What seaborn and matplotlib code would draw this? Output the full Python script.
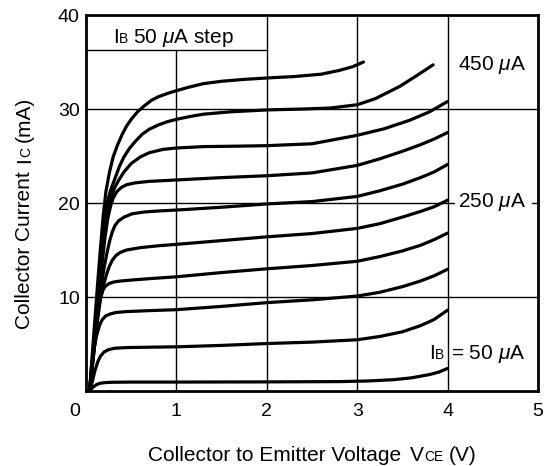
import numpy as np
import pandas as pd
import seaborn as sns
import matplotlib
matplotlib.use("Agg")
import matplotlib.pyplot as plt
import matplotlib.transforms as mtransforms

# ---------------- data ----------------
ib_ua = [50, 100, 150, 200, 250, 300, 350, 400, 450, 500]

vce_050 = [0.04, 0.06, 0.09, 0.12, 0.16, 0.22, 0.3, 0.5, 1.0, 2.0, 2.8, 3.1, 3.4, 3.6, 3.8, 3.9, 4.0]
ic_050 = [0.0, 0.25, 0.5, 0.7, 0.83, 0.9, 0.93, 0.95, 0.95, 0.97, 1.0, 1.06, 1.2, 1.4, 1.75, 2.0, 2.4]

vce_100 = [0.04, 0.07, 0.10, 0.13, 0.16, 0.20, 0.25, 0.32, 0.45, 0.7, 1.0, 1.5, 2.0, 2.5, 3.0, 3.25, 3.5, 3.7, 3.85, 4.0]
ic_100 = [0.0, 1.0, 2.2, 3.1, 3.7, 4.15, 4.4, 4.55, 4.62, 4.66, 4.7, 4.85, 5.05, 5.2, 5.45, 5.8, 6.3, 6.95, 7.6, 8.6]

vce_150 = [0.04, 0.06, 0.09, 0.12, 0.15, 0.18, 0.22, 0.27, 0.33, 0.45, 0.7, 1.0, 1.5, 2.0, 2.5, 3.0, 3.25, 3.5, 3.7, 3.85, 4.0]
ic_150 = [0.0, 2.5, 4.6, 6.0, 7.0, 7.6, 8.0, 8.2, 8.35, 8.45, 8.55, 8.65, 9.0, 9.4, 9.7, 10.1, 10.5, 11.1, 11.7, 12.25, 12.95]

vce_200 = [0.04, 0.07, 0.10, 0.13, 0.16, 0.19, 0.22, 0.26, 0.31, 0.38, 0.5, 0.7, 1.0, 1.5, 2.0, 2.5, 3.0, 3.25, 3.5, 3.7, 3.85, 4.0]
ic_200 = [0.0, 3.0, 6.0, 8.3, 9.9, 10.8, 11.2, 11.45, 11.6, 11.7, 11.8, 11.95, 12.15, 12.6, 13.0, 13.35, 13.8, 14.3, 14.9, 15.5, 16.1, 16.8]

vce_250 = [0.04, 0.08, 0.12, 0.16, 0.20, 0.23, 0.26, 0.29, 0.33, 0.38, 0.45, 0.6, 0.8, 1.0, 1.5, 2.0, 2.5, 3.0, 3.25, 3.5, 3.7, 3.85, 4.0]
ic_250 = [0.0, 3.5, 7.0, 9.8, 11.5, 12.5, 13.3, 13.9, 14.4, 14.75, 15.0, 15.25, 15.45, 15.6, 16.0, 16.4, 16.75, 17.3, 17.8, 18.5, 19.1, 19.6, 20.3]

vce_300 = [0.04, 0.08, 0.12, 0.16, 0.20, 0.23, 0.26, 0.29, 0.32, 0.36, 0.42, 0.51, 0.65, 0.8, 1.0, 1.5, 2.0, 2.5, 3.0, 3.25, 3.5, 3.7, 3.85, 4.0]
ic_300 = [0.0, 3.5, 7.2, 10.7, 13.1, 14.6, 15.9, 16.9, 17.6, 18.1, 18.5, 18.85, 19.05, 19.15, 19.25, 19.55, 19.9, 20.15, 20.7, 21.3, 22.0, 22.7, 23.3, 24.1]

vce_350 = [0.04, 0.08, 0.12, 0.15, 0.18, 0.21, 0.24, 0.27, 0.30, 0.34, 0.39, 0.45, 0.55, 0.7, 1.0, 1.5, 2.0, 2.5, 3.0, 3.25, 3.5, 3.7, 3.85, 4.0]
ic_350 = [0.0, 3.9, 8.2, 11.0, 13.8, 16.3, 18.3, 19.6, 20.5, 21.2, 21.65, 21.95, 22.15, 22.3, 22.45, 22.7, 22.9, 23.2, 24.0, 24.7, 25.5, 26.2, 26.8, 27.5]

vce_400 = [0.04, 0.08, 0.11, 0.14, 0.17, 0.20, 0.23, 0.27, 0.31, 0.36, 0.42, 0.5, 0.6, 0.7, 0.85, 1.0, 1.3, 1.7, 2.0, 2.5, 3.0, 3.3, 3.58, 3.8, 4.0]
ic_400 = [0.0, 4.0, 7.5, 10.7, 13.8, 16.4, 18.5, 20.3, 21.5, 22.4, 23.3, 24.2, 24.9, 25.35, 25.7, 25.85, 26.0, 26.05, 26.1, 26.3, 27.2, 27.9, 28.8, 29.7, 30.8]

vce_450 = [0.04, 0.08, 0.11, 0.14, 0.17, 0.20, 0.23, 0.27, 0.32, 0.37, 0.42, 0.48, 0.55, 0.62, 0.7, 0.8, 0.9, 1.0, 1.15, 1.3, 1.6, 2.0, 2.4, 2.7, 3.0, 3.2, 3.47, 3.65, 3.84]
ic_450 = [0.0, 4.2, 7.8, 11.2, 14.4, 17.4, 19.8, 21.3, 22.6, 23.9, 24.9, 25.8, 26.6, 27.3, 27.85, 28.3, 28.65, 28.9, 29.2, 29.45, 29.7, 29.9, 30.0, 30.1, 30.45, 31.1, 32.4, 33.5, 34.7]

vce_500 = [0.04, 0.07, 0.10, 0.13, 0.16, 0.19, 0.22, 0.26, 0.30, 0.35, 0.40, 0.45, 0.5, 0.57, 0.64, 0.72, 0.8, 0.9, 1.0, 1.15, 1.3, 1.5, 1.75, 2.0, 2.3, 2.6, 2.8, 2.95, 3.07]
ic_500 = [0.0, 4.0, 7.8, 11.6, 15.2, 18.6, 21.2, 23.3, 24.9, 26.2, 27.3, 28.2, 28.9, 29.7, 30.3, 30.9, 31.3, 31.65, 31.95, 32.35, 32.7, 32.95, 33.15, 33.3, 33.45, 33.7, 34.1, 34.5, 35.0]

x_ticks = [0, 1, 2, 3, 4, 5]
y_ticks = [10, 20, 30, 40]

curves_v = [vce_050, vce_100, vce_150, vce_200, vce_250, vce_300, vce_350, vce_400, vce_450, vce_500]
curves_i = [ic_050, ic_100, ic_150, ic_200, ic_250, ic_300, ic_350, ic_400, ic_450, ic_500]

rows = []
for ib, vs, cs in zip(ib_ua, curves_v, curves_i):
    for k, (v, c) in enumerate(zip(vs, cs)):
        rows.append({"ib": ib, "k": k, "vce": v, "ic": c})
df = pd.DataFrame(rows)

# ---------------- style ----------------
sns.set_theme(style="white")
plt.rcParams["font.family"] = ["Liberation Sans", "DejaVu Sans"]
plt.rcParams["mathtext.fontset"] = "custom"
plt.rcParams["mathtext.rm"] = "Liberation Sans"
plt.rcParams["mathtext.it"] = "Liberation Sans:italic"

W, H, DPI = 553, 466, 100
fig = plt.figure(figsize=(W / DPI, H / DPI), dpi=DPI)
ax_l, ax_r, ax_t, ax_b = 86, 538, 15, 391
ax = fig.add_axes([ax_l / W, 1 - ax_b / H, (ax_r - ax_l) / W, (ax_b - ax_t) / H])

# grid (drawn manually to reproduce the broken lines)
glw = 1.0
ax.axvline(1, ymin=0, ymax=36.3 / 40, color="black", lw=glw, zorder=1)
for xv in (2, 3, 4):
    ax.axvline(xv, color="black", lw=glw, zorder=1)
ax.axhline(10, color="black", lw=glw, zorder=1)
ax.axhline(30, color="black", lw=glw, zorder=1)
ax.axhline(20, xmin=0, xmax=4.07 / 5, color="black", lw=glw, zorder=1)
ax.axhline(20, xmin=4.93 / 5, xmax=1, color="black", lw=glw, zorder=1)
ax.axhline(36.3, xmin=0, xmax=2 / 5, color="black", lw=glw, zorder=1)

sns.lineplot(data=df, x="vce", y="ic", units="ib", estimator=None, sort=False,
             color="black", lw=2.3, ax=ax, legend=False, zorder=3)
for ln in ax.get_lines():
    ln.set_solid_joinstyle("round")
    ln.set_solid_capstyle("round")

ax.set_xlim(0, 5)
ax.set_ylim(0, 40)
ax.set_xticks(x_ticks)
ax.set_xticklabels([str(t) for t in x_ticks])
ax.set_yticks(y_ticks)
ax.set_yticklabels([str(t) for t in y_ticks])
ax.tick_params(axis="both", length=0, labelsize=14, colors="black")
ax.tick_params(axis="x", pad=8.5)
ax.tick_params(axis="y", pad=4.5)
ax.set_xlabel("")
ax.set_ylabel("")
for s in ax.spines.values():
    s.set_visible(True)
    s.set_color("black")
    s.set_linewidth(2.0)

# shift the "0" x tick label to the left as in the reference
off = mtransforms.ScaledTranslation(-11 / DPI, 0, fig.dpi_scale_trans)
lab0 = ax.get_xticklabels()[0]
lab0.set_transform(lab0.get_transform() + off)

fig.canvas.draw()
renderer = fig.canvas.get_renderer()


def measure(pieces):
    total = 0
    for txt, size, gap in pieces:
        t = fig.text(0, 0, txt, fontsize=size)
        ex = t.get_window_extent(renderer)
        total += ex.width + gap
        t.remove()
    return total


def rich(x, y, pieces, transform, rotation=0):
    tr = transform
    for txt, size, gap in pieces:
        t = fig.text(x, y, txt, transform=tr, fontsize=size, va="baseline", ha="left",
                     rotation=rotation, rotation_mode="anchor", color="black", zorder=6)
        ex = t.get_window_extent(renderer)
        if rotation == 90:
            tr = mtransforms.offset_copy(t.get_transform(), fig=fig, x=0, y=ex.height + gap, units="dots")
        else:
            tr = mtransforms.offset_copy(t.get_transform(), fig=fig, x=ex.width + gap, units="dots")


BIG, SMALL = 15, 10
# annotations inside the plot (data coordinates)
rich(0.30, 37.07, [("I", BIG, 0), ("B", SMALL, 5), ("50 $\\mu$A step", BIG, 0)], ax.transData)
rich(4.115, 34.1, [("450 $\\mu$A", BIG, 0)], ax.transData)
rich(4.115, 19.54, [("250 $\\mu$A", BIG, 0)], ax.transData)
rich(3.80, 3.40, [("I", BIG, 0), ("B", SMALL, 6), ("= 50 $\\mu$A", BIG, 0)], ax.transData)

# axis labels
xl_pieces = [("Collector to Emitter Voltage", BIG, 9), ("V", BIG, 0), ("CE", SMALL, 5), ("(V)", BIG, 0)]
xl_w = measure(xl_pieces)
xc = (ax_l + ax_r) / 2
rich((xc - xl_w / 2) / W, 1 - 461 / H, xl_pieces, fig.transFigure)

yl_pieces = [("Collector Current", BIG, 9), ("I", BIG, 0), ("C", SMALL, 5), ("(mA)", BIG, 0)]
yl_w = measure(yl_pieces)
yc = 213
rich(30 / W, 1 - (yc + yl_w / 2) / H, yl_pieces, fig.transFigure, rotation=90)

fig.savefig("out.png", dpi=DPI, facecolor="white")
